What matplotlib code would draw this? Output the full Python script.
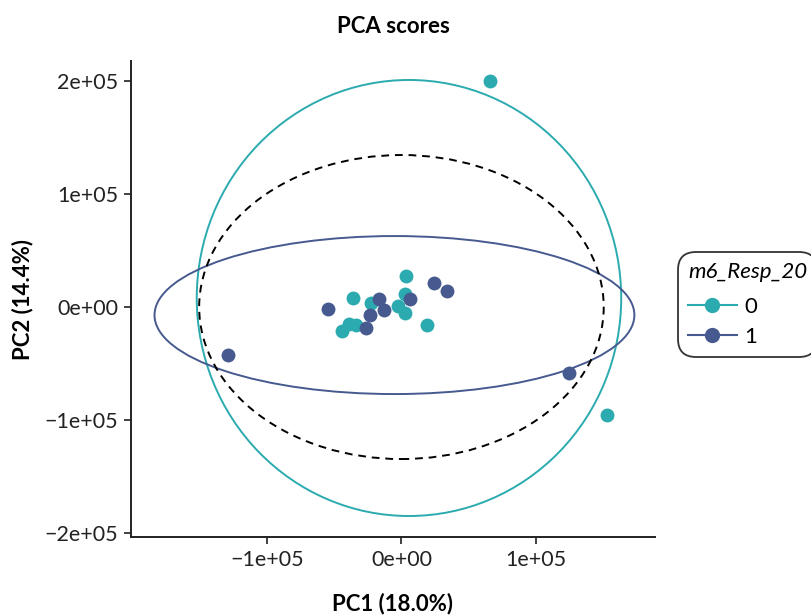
"""PCA scores plot with group ellipses."""

import matplotlib

matplotlib.use("Agg")

import matplotlib.pyplot as plt
from matplotlib.lines import Line2D
from matplotlib.patches import Ellipse

plt.rcParams["font.family"] = ["Lato", "DejaVu Sans"]

# scores
pc1_group0 = [65700, 153000, 3500, -36000, -22400, 2500, -2500, 2500, 19200, -39300, -33600, -44300]
pc2_group0 = [200000, -95600, 27700, 8200, 3800, 11200, 1200, -5600, -15900, -15300, -15900, -21200]
pc1_group1 = [-54700, -16400, 6000, 24100, 33600, -12700, -23100, -26300, -129100, 124600]
pc2_group1 = [-2000, 7100, 6800, 21000, 14200, -2700, -7100, -18300, -42500, -58400]

# ellipses: centre x, centre y, full width, full height
ellipse_group0 = [5600, 8000, 315600, 385800]
ellipse_group1 = [-5200, -7100, 356800, 139800]
ellipse_all = [0, 0, 300800, 269000]

groups = ["0", "1"]
colors = ["#2BABAF", "#475A8F"]
tick_values = [-200000, -100000, 0, 100000, 200000]


def sci_label(v):
    return f"{v:.0e}".replace("-", "\u2212")


fig = plt.figure(figsize=(8.12, 6.16), dpi=100)
ax = fig.add_axes([0.1613, 0.1282, 0.6453, 0.7728])

for (cx, cy, w, h), col, ls in [
    (ellipse_group0, colors[0], "-"),
    (ellipse_group1, colors[1], "-"),
    (ellipse_all, "black", (0, (4, 3))),
]:
    ax.add_patch(Ellipse((cx, cy), w, h, fill=False, edgecolor=col,
                         linewidth=1.4, linestyle=ls))

ax.scatter(pc1_group0, pc2_group0, s=100, color=colors[0], zorder=3, linewidths=0)
ax.scatter(pc1_group1, pc2_group1, s=100, color=colors[1], zorder=3, linewidths=0)

ax.set_xlim(-201100, 188500)
ax.set_ylim(-203500, 217700)
ax.set_xticks(tick_values[1:4])
ax.set_xticklabels([sci_label(v) for v in tick_values[1:4]])
ax.set_yticks(tick_values)
ax.set_yticklabels([sci_label(v) for v in tick_values])

for side in ["top", "right"]:
    ax.spines[side].set_visible(False)
for side in ["left", "bottom"]:
    ax.spines[side].set_linewidth(1.4)
    ax.spines[side].set_color("#222222")
ax.tick_params(length=5, width=1.3, color="#333333", labelsize=15.5,
               labelcolor="#222222", pad=4)

ax.set_xlabel("PC1 (18.0%)", fontsize=16, fontweight="bold", labelpad=17)
ax.set_ylabel("PC2 (14.4%)", fontsize=16, fontweight="bold", labelpad=8)
ax.set_title("PCA scores", fontsize=16, fontweight="bold", pad=20)

handles = [
    Line2D([0], [0], color=c, marker="o", markersize=11, linewidth=1.5,
           markeredgewidth=0)
    for c in colors
]
leg = fig.legend(handles, groups, title="m6_Resp_20", loc="upper left",
                 bbox_to_anchor=(0.835, 0.591), fontsize=16,
                 title_fontproperties={"size": 16, "style": "italic"},
                 frameon=True, fancybox=True, edgecolor="black",
                 handlelength=2.2, handletextpad=0.35, labelspacing=0.45,
                 borderpad=0.45, borderaxespad=0)
leg._legend_box.align = "left"
leg._legend_box.sep = 10.5  # a bit more room under the legend title
leg.get_frame().set_linewidth(1.3)
leg.get_frame().set_boxstyle("round,pad=0,rounding_size=0.8")

fig.savefig("out.png", dpi=100)
